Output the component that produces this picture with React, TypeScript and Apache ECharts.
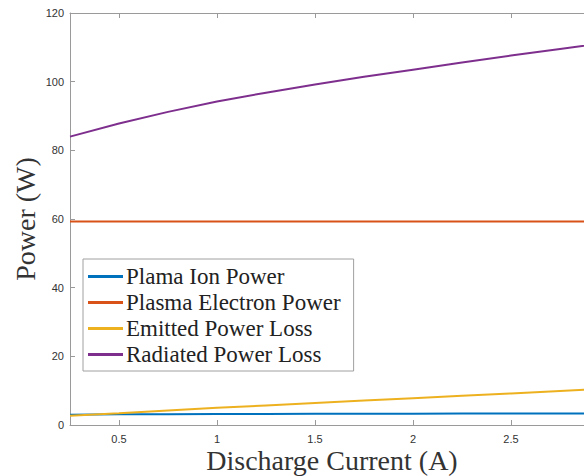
import React, { useEffect, useRef } from "react";
import * as echarts from "echarts";

const currents = [0.25, 0.5, 0.75, 1, 1.25, 1.5, 1.75, 2, 2.25, 2.5, 2.75, 3];
const ionPower = [3.0, 3.1, 3.15, 3.2, 3.22, 3.25, 3.27, 3.3, 3.32, 3.34, 3.36, 3.38];
const electronPower = [59.3, 59.3, 59.3, 59.3, 59.3, 59.3, 59.3, 59.3, 59.3, 59.3, 59.3, 59.3];
const emittedLoss = [2.7, 3.4, 4.2, 5.0, 5.7, 6.4, 7.1, 7.8, 8.5, 9.2, 9.9, 10.6];
const radiatedLoss = [84.0, 87.8, 91.2, 94.2, 96.8, 99.2, 101.4, 103.5, 105.6, 107.6, 109.5, 111.4];
const seriesNames = ["Plama Ion Power", "Plasma Electron Power", "Emitted Power Loss", "Radiated Power Loss"];
const xTicks = [0.5, 1, 1.5, 2, 2.5, 3];
const xTickLabels = [0.5, 1, 1.5, 2, 2.5];

const colors = ["#0072BD", "#D95319", "#EDB120", "#7E2F8E"];
const serif = "Liberation Serif";
const sans = "Liberation Sans";
const axisGray = "#9a9a9a";

export default function App() {
  const ref = useRef<HTMLDivElement>(null);
  useEffect(() => {
    if (!ref.current) return;
    const chart = echarts.init(ref.current, null, { renderer: "svg" });
    const allSeries = [ionPower, electronPower, emittedLoss, radiatedLoss];
    chart.setOption({
      animation: false,
      backgroundColor: "#ffffff",
      grid: { left: 70, top: 13, bottom: 51, right: 3, outerBoundsMode: "none", containLabel: false },
      legend: {
        orient: "vertical",
        left: 83,
        top: 259,
        padding: [6, 13, 5, 5],
        itemGap: 3,
        itemWidth: 35,
        itemHeight: 3,
        icon: "rect",
        backgroundColor: "#ffffff",
        borderColor: "#a0a0a0",
        borderWidth: 1,
        borderRadius: 0,
        textStyle: { fontFamily: serif, fontSize: 23, color: "#222", padding: [0, 0, 0, -2] },
        data: seriesNames,
      },
      xAxis: [
        {
          type: "value",
          min: 0.25,
          max: 3,
          name: "Discharge Current (A)",
          nameLocation: "middle",
          nameGap: 21,
          nameMoveOverlap: false,
          nameTextStyle: { fontFamily: serif, fontSize: 28, lineHeight: 28, color: "#333", padding: [0, 15, 0, 0] },
          axisLine: { show: true, lineStyle: { color: axisGray, width: 1 } },
          axisTick: { show: true, inside: true, length: 5, lineStyle: { color: axisGray }, customValues: xTicks },
          axisLabel: { fontFamily: sans, fontSize: 11, lineHeight: 11, color: "#333", margin: 8, customValues: xTickLabels },
          splitLine: { show: false },
        },
        {
          type: "value",
          position: "top",
          min: 0.25,
          max: 3,
          axisLine: { show: true, lineStyle: { color: axisGray, width: 1 } },
          axisTick: { show: true, inside: true, length: 5, lineStyle: { color: axisGray }, customValues: xTicks },
          axisLabel: { show: false },
          splitLine: { show: false },
        },
      ],
      yAxis: {
        type: "value",
        min: 0,
        max: 120,
        interval: 20,
        name: "Power (W)",
        nameLocation: "middle",
        nameGap: 31,
        nameMoveOverlap: false,
        nameTextStyle: { fontFamily: serif, fontSize: 28, color: "#333" },
        axisLine: { show: true, lineStyle: { color: axisGray, width: 1 } },
        axisTick: { show: true, inside: true, length: 5, lineStyle: { color: axisGray } },
        axisLabel: { fontFamily: sans, fontSize: 11, color: "#333", margin: 6 },
        splitLine: { show: false },
      },
      series: allSeries.map((vals, i) => ({
        name: seriesNames[i],
        type: "line",
        xAxisIndex: 0,
        data: currents.map((c, j) => [c, vals[j]]),
        symbol: "none",
        lineStyle: { color: colors[i], width: 2 },
        itemStyle: { color: colors[i] },
        z: 2,
      })),
    });
    return () => chart.dispose();
  }, []);
  return (
    <div style={{ position: "absolute", left: 0, top: 0, width: 584, height: 476, overflow: "hidden" }}>
      <div ref={ref} style={{ width: 612, height: 476 }} />
    </div>
  );
}
